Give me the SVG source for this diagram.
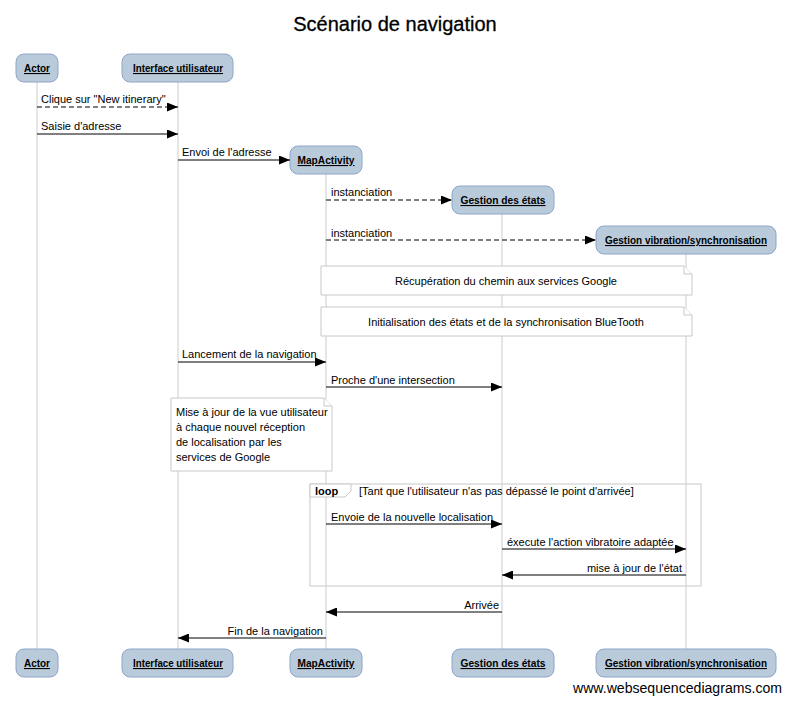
<svg xmlns="http://www.w3.org/2000/svg" width="790" height="703" viewBox="0 0 790 703">
<style>
text{font-family:"Liberation Sans",Arial,sans-serif;fill:#000}
.t{font-size:11px}
.p{font-size:11px;font-weight:bold;text-decoration:underline}
.box{fill:#b9cbda;stroke:#8ea5c8;stroke-width:1}
.life{stroke:#cccccc;stroke-width:1}
.msg{stroke:#000;stroke-width:1;fill:none}
.dash{stroke-dasharray:5,3}
.note{fill:#fff;stroke:#c8c8c8;stroke-width:1}
</style>
<defs>
<marker id="ah" markerWidth="11" markerHeight="9" refX="11" refY="4.5" orient="auto" markerUnits="userSpaceOnUse">
<path d="M0,0 L11,4.5 L0,9 z" fill="#000"/>
</marker>
</defs>
<rect width="790" height="703" fill="#fff"/>
<text x="395" y="31" font-size="20" text-anchor="middle" stroke="#000" stroke-width="0.3">Scénario de navigation</text>

<g id="lifelines">
<line class="life" x1="37" y1="82" x2="37" y2="649"/>
<line class="life" x1="178" y1="82" x2="178" y2="649"/>
<line class="life" x1="326" y1="174" x2="326" y2="649"/>
<line class="life" x1="502" y1="214" x2="502" y2="649"/>
<line class="life" x1="686" y1="254" x2="686" y2="649"/>
</g>

<g id="actor">
<rect class="box" x="16" y="54" width="42" height="28" rx="8"/>
<text class="p" x="37" y="72" text-anchor="middle" textLength="26" lengthAdjust="spacingAndGlyphs">Actor</text>
<rect class="box" x="16" y="649" width="42" height="28" rx="8"/>
<text class="p" x="37" y="667" text-anchor="middle" textLength="26" lengthAdjust="spacingAndGlyphs">Actor</text>
</g>
<g id="interface">
<rect class="box" x="122" y="54" width="111" height="28" rx="8"/>
<text class="p" x="178" y="72" text-anchor="middle" textLength="90" lengthAdjust="spacingAndGlyphs">Interface utilisateur</text>
<rect class="box" x="122" y="649" width="111" height="28" rx="8"/>
<text class="p" x="178" y="667" text-anchor="middle" textLength="90" lengthAdjust="spacingAndGlyphs">Interface utilisateur</text>
</g>
<g id="mapactivity">
<rect class="box" x="290" y="146" width="72" height="28" rx="8"/>
<text class="p" x="326" y="164" text-anchor="middle" textLength="57" lengthAdjust="spacingAndGlyphs">MapActivity</text>
<rect class="box" x="290" y="649" width="72" height="28" rx="8"/>
<text class="p" x="326" y="667" text-anchor="middle" textLength="57" lengthAdjust="spacingAndGlyphs">MapActivity</text>
</g>
<g id="etats">
<rect class="box" x="452" y="186" width="102" height="28" rx="8"/>
<text class="p" x="503" y="204" text-anchor="middle" textLength="85" lengthAdjust="spacingAndGlyphs">Gestion des états</text>
<rect class="box" x="452" y="649" width="102" height="28" rx="8"/>
<text class="p" x="503" y="667" text-anchor="middle" textLength="85" lengthAdjust="spacingAndGlyphs">Gestion des états</text>
</g>
<g id="vibration">
<rect class="box" x="596" y="226" width="180" height="28" rx="8"/>
<text class="p" x="686" y="244" text-anchor="middle" textLength="162" lengthAdjust="spacingAndGlyphs">Gestion vibration/synchronisation</text>
<rect class="box" x="596" y="649" width="180" height="28" rx="8"/>
<text class="p" x="686" y="667" text-anchor="middle" textLength="162" lengthAdjust="spacingAndGlyphs">Gestion vibration/synchronisation</text>
</g>

<g id="note1">
<path class="note" d="M321,266 H684 L692,274 V295 H321 Z"/>
<path class="note" d="M684,266 V274 H692" fill="none"/>
<text class="t" x="506" y="285" text-anchor="middle">Récupération du chemin aux services Google</text>
</g>
<g id="note2">
<path class="note" d="M321,307 H684 L692,315 V336 H321 Z"/>
<path class="note" d="M684,307 V315 H692" fill="none"/>
<text class="t" x="506" y="326" text-anchor="middle">Initialisation des états et de la synchronisation BlueTooth</text>
</g>
<g id="note3">
<path class="note" d="M171,398 H324 L332,406 V471 H171 Z"/>
<path class="note" d="M324,398 V406 H332" fill="none"/>
<text class="t" x="176" y="416">Mise à jour de la vue utilisateur</text>
<text class="t" x="176" y="431">à chaque nouvel réception</text>
<text class="t" x="176" y="446">de localisation par les</text>
<text class="t" x="176" y="461">services de Google</text>
</g>

<g id="loop">
<rect x="310" y="484" width="391" height="102" fill="none" stroke="#c8c8c8"/>
<path d="M310,484 H351 V491 L345,497 H310 Z" fill="#fff" stroke="#c8c8c8"/>
<text x="315" y="495" font-size="11" font-weight="bold">loop</text>
<text class="t" x="359" y="495">[Tant que l'utilisateur n'as pas dépassé le point d'arrivée]</text>
</g>

<g id="connectors">
<line class="msg dash" x1="37" y1="107" x2="178" y2="107" marker-end="url(#ah)"/>
<text class="t" x="41" y="103">Clique sur "New itinerary"</text>
<line class="msg" x1="37" y1="134" x2="178" y2="134" marker-end="url(#ah)"/>
<text class="t" x="41" y="130">Saisie d'adresse</text>
<line class="msg" x1="178" y1="160" x2="290" y2="160" marker-end="url(#ah)"/>
<text class="t" x="182" y="156">Envoi de l'adresse</text>
<line class="msg dash" x1="326" y1="200" x2="452" y2="200" marker-end="url(#ah)"/>
<text class="t" x="331" y="196">instanciation</text>
<line class="msg dash" x1="326" y1="240" x2="596" y2="240" marker-end="url(#ah)"/>
<text class="t" x="331" y="237">instanciation</text>
<line class="msg" x1="178" y1="362" x2="326" y2="362" marker-end="url(#ah)"/>
<text class="t" x="182" y="358">Lancement de la navigation</text>
<line class="msg" x1="326" y1="387" x2="502" y2="387" marker-end="url(#ah)"/>
<text class="t" x="331" y="384">Proche d'une intersection</text>
<line class="msg" x1="326" y1="524" x2="502" y2="524" marker-end="url(#ah)"/>
<text class="t" x="331" y="521">Envoie de la nouvelle localisation</text>
<line class="msg" x1="502" y1="549" x2="686" y2="549" marker-end="url(#ah)"/>
<text class="t" x="507" y="546">éxecute l'action vibratoire adaptée</text>
<line class="msg" x1="686" y1="575" x2="502" y2="575" marker-end="url(#ah)"/>
<text class="t" x="682" y="572" text-anchor="end">mise à jour de l'état</text>
<line class="msg" x1="502" y1="612" x2="326" y2="612" marker-end="url(#ah)"/>
<text class="t" x="499" y="609" text-anchor="end">Arrivée</text>
<line class="msg" x1="326" y1="638" x2="178" y2="638" marker-end="url(#ah)"/>
<text class="t" x="323" y="635" text-anchor="end">Fin de la navigation</text>
</g>

<text x="782" y="693" font-size="14" text-anchor="end" textLength="209" lengthAdjust="spacingAndGlyphs">www.websequencediagrams.com</text>
</svg>
